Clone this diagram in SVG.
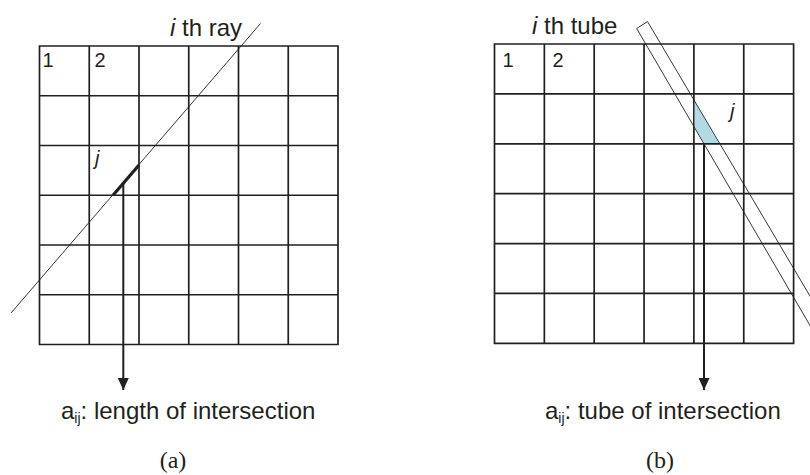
<svg xmlns="http://www.w3.org/2000/svg" width="810" height="475" viewBox="0 0 810 475">
<style>
.grid{fill:none;stroke:#231f20;stroke-width:1.7}
.thin{fill:none;stroke:#231f20;stroke-width:0.9}
.conn{fill:none;stroke:#231f20;stroke-width:2}
.lbl{font-family:"Liberation Sans",Arial,sans-serif;font-size:24px;fill:#231f20}
.num{font-family:"Liberation Sans",Arial,sans-serif;font-size:20px;fill:#231f20}
.cap{font-family:"Liberation Serif","DejaVu Serif",serif;font-size:24px;fill:#231f20}
.it{font-style:italic}
</style>
<defs>
<marker id="arrow" viewBox="0 0 12 11" refX="12" refY="5.5" markerWidth="12" markerHeight="11" markerUnits="userSpaceOnUse" orient="auto">
<path d="M0,0 L12,5.5 L0,11 Z" fill="#231f20"/>
</marker>
</defs>
<g id="panel-a">
<g id="grid-a">
<path class="grid" d="M39.5,46H338V344.5H39.5Z M89.25,46V344.5 M139,46V344.5 M188.75,46V344.5 M238.5,46V344.5 M288.25,46V344.5 M39.5,95.75H338 M39.5,145.5H338 M39.5,195.25H338 M39.5,245H338 M39.5,294.75H338"/>
<text class="num" x="42.5" y="67">1</text>
<text class="num" x="94.5" y="67">2</text>
</g>
<g id="ray-a">
<path class="thin" d="M260.5,23.5 L11,313"/>
<text class="lbl" x="170" y="36"><tspan class="it">i</tspan> th ray</text>
</g>
<g id="segment-a">
<path d="M139,165 L113,195.25" fill="none" stroke="#231f20" stroke-width="3.2"/>
<text class="num it" x="95" y="165">j</text>
</g>
<g id="label-a">
<text class="lbl" x="61" y="419">a<tspan font-size="14" dy="4">ij</tspan><tspan dy="-4">: length of intersection</tspan></text>
<text class="cap" x="173" y="468" text-anchor="middle">(a)</text>
</g>
</g>
<g id="panel-b">
<g id="grid-b">
<path class="grid" d="M494.5,44H793.6V343.3H494.5Z M544.35,44V343.3 M594.2,44V343.3 M644.05,44V343.3 M693.9,44V343.3 M743.75,44V343.3 M494.5,93.9H793.6 M494.5,143.8H793.6 M494.5,193.7H793.6 M494.5,243.6H793.6 M494.5,293.4H793.6"/>
<text class="num" x="502.5" y="67">1</text>
<text class="num" x="552.5" y="67">2</text>
</g>
<g id="cell-j-b">
<polygon points="694.7,101.1 718.8,143.0 704,143.0 694.7,126.9" fill="#b2dae5"/>
<text class="num it" x="730" y="118">j</text>
</g>
<g id="tube-b">
<path class="thin" d="M836,340 L647.5,21.5 L636.7,28.5 L818.5,340"/>
<text class="lbl" x="532" y="34"><tspan class="it">i</tspan> th tube</text>
</g>
<g id="label-b">
<text class="lbl" x="545" y="419">a<tspan font-size="14" dy="4">ij</tspan><tspan dy="-4">: tube of intersection</tspan></text>
<text class="cap" x="660" y="468" text-anchor="middle">(b)</text>
</g>
</g>
<g id="connectors">
<path class="conn" d="M123.3,183 V390" marker-end="url(#arrow)"/>
<path class="conn" d="M704,143.8 V390" marker-end="url(#arrow)"/>
</g>
</svg>
